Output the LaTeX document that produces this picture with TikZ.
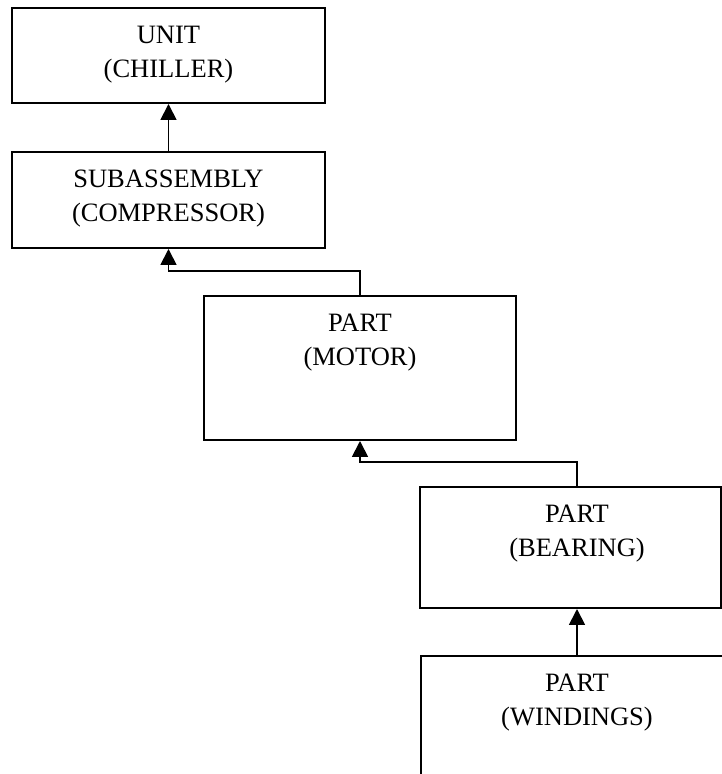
\documentclass[tikz,border=0pt]{standalone}
\usepackage{fontspec}
\setmainfont{Liberation Serif}
\usetikzlibrary{arrows.meta}

\tikzset{
  box/.style={draw, line width=2pt, minimum width=313pt, inner sep=0pt},
  boxtext/.style={anchor=north, align=center, inner sep=0pt, font=\fontsize{26.5}{34}\selectfont, yshift=-19pt},
  link/.style={line width=1.8pt, -{Triangle[width=16pt,length=16pt]}},
}

\begin{document}
\begin{tikzpicture}[x=1pt,y=1pt]
    \useasboundingbox (0,0) rectangle (722,774);
    \clip (0,0) rectangle (722,774);

    % draw boxes
    \node[box, minimum height=95pt] (unit) at (168.5,718.5) {};
    \node[box, minimum height=96pt] (sub) at (168.5,574) {};
    \node[box, minimum height=144pt, minimum width=312pt] (motor) at (360,406) {};
    \node[box, minimum height=121pt, minimum width=301pt] (bearing) at (570.5,226.5) {};
    \node[box, minimum height=160pt, minimum width=312pt] (windings) at (577,38) {};

    % draw texts
    \node[boxtext] (unittext) at (unit.north) {UNIT\\(CHILLER)};
    \node[boxtext] (subtext) at (sub.north) {SUBASSEMBLY\\(COMPRESSOR)};
    \node[boxtext] (motortext) at (motor.north) {PART\\(MOTOR)};
    \node[boxtext] (bearingtext) at (windings.north |- bearing.north) {PART\\(BEARING)};
    \node[boxtext] (windingstext) at (windings.north) {PART\\(WINDINGS)};

    % draw arrows
    \draw[link] (sub.north) -- (unit.south);
    \draw[link] (motor.north) -- ++(0,24) -| (sub.south);
    \draw[link] (windings.north |- bearing.north) -- ++(0,24) -| (motor.south);
    \draw[link] (windings.north) -- (windings.north |- bearing.south);
\end{tikzpicture}
\end{document}
